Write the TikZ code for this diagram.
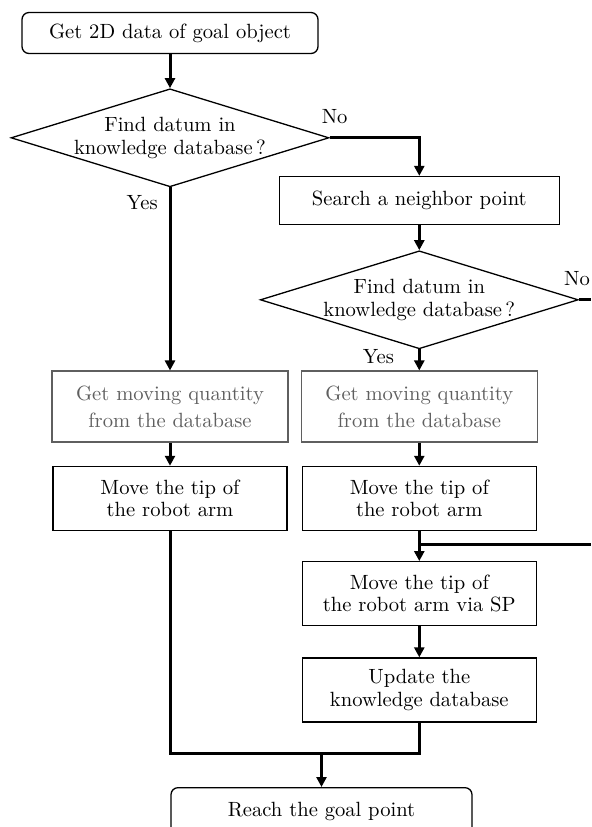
\documentclass[tikz,border=0pt]{standalone}
\usepackage{fontspec}
\usepackage{tikz}
\usetikzlibrary{shapes.geometric, arrows.meta, positioning, calc}
\definecolor{flowgray}{RGB}{95,95,95}

\begin{document}
\begin{tikzpicture}[
    node distance=15pt,
    box/.style={draw, line width=0.65pt, align=center, inner sep=2pt,
                font=\fontsize{10.3}{11.2}\selectfont},
    arrow/.style={-{Triangle[length=5pt,width=5pt]}, line width=1.5pt},
    line/.style={line width=1.5pt},
    note/.style={font=\fontsize{10.3}{11.2}\selectfont, inner sep=2pt},
    startstop/.style={box, rounded corners=3.5pt, minimum width=148pt,
                      minimum height=20.5pt},
    process/.style={box, minimum width=117pt, minimum height=32pt},
    dbbox/.style={box, draw=flowgray, text=flowgray, minimum width=118pt,
                  minimum height=35.5pt,
                  font=\fontsize{10.3}{13.5}\selectfont\addfontfeatures{LetterSpace=6}},
    decision/.style={box, diamond, aspect=3.24, inner xsep=-7pt, inner ysep=0pt,
                     minimum width=159pt, minimum height=49pt},
]
\useasboundingbox (0,0) rectangle (295.5pt,-413.5pt);

% -- left column: direct hit ----------------------------------------
\node[startstop] (start) at (85pt,-16.5pt) {Get 2D data of goal object};

\node[decision, below=17pt of start] (find1)
      {Find datum in\\knowledge database\,?};

\node[dbbox, below=91.5pt of find1] (lget)
      {Get moving quantity\\from the database};

% -- right column: neighbor search ----------------------------------
\node[dbbox, right=6pt of lget] (rget)
      {Get moving quantity\\from the database};

\node[decision, above=10.5pt of rget] (find2)
      {Find datum in\\knowledge database\,?};

\node[process, above=12.5pt of find2, minimum width=140pt,
      minimum height=24pt] (search) {Search a neighbor point};

\node[process, below=11.5pt of lget] (lmove)
      {Move the tip of\\the robot arm};
\node[process, below=11.5pt of rget] (rmove)
      {Move the tip of\\the robot arm};

\node[process, below=15pt of rmove] (viasp)
      {Move the tip of\\the robot arm via SP};
\node[process, below=15.5pt of viasp] (update)
      {Update the\\knowledge database};

% -- end ---------------------------------------------------------------
\node[startstop, minimum width=150.5pt, minimum height=24pt, anchor=north]
      (goal) at (160.75pt,-393.5pt) {Reach the goal point};

% -- labels -----------------------------------------------------------
\node[note, above=5pt of find1.east, xshift=2.5pt] (no1) {No};
\node[note, above=5pt of find2.east, xshift=-1pt] (no2) {No};
\node[note, below left=2pt and 4pt of find1.south] (yes1) {Yes};
\node[note, below left=-2pt and 10.5pt of find2.south] (yes2) {Yes};

% -- arrows -----------------------------------------------------------
\coordinate (edge) at (295.5pt,0);
\coordinate (split) at ($(rmove.south)!0.45!(viasp.north)$);
\coordinate (merge) at ($(goal.north)+(0,17pt)$);

\draw[arrow] (start) -- (find1);
\draw[arrow] (find1.east) -| (search.north);
\draw[arrow] (search) -- (find2);
\draw[line]  (find2.east) -- (find2.east -| edge);
\draw[arrow] (find1.south) -- (lget.north);
\draw[arrow] (find2.south) -- (rget.north);
\draw[arrow] (lget) -- (lmove);
\draw[arrow] (rget) -- (rmove);
\draw[arrow] (rmove) -- (viasp);
\draw[line]  (split) -- (split -| edge);
\draw[arrow] (viasp) -- (update);
\draw[line]  (lmove.south) |- (merge) -| (update.south);
\draw[arrow] (merge) -- (goal.north);

\end{tikzpicture}
\end{document}
